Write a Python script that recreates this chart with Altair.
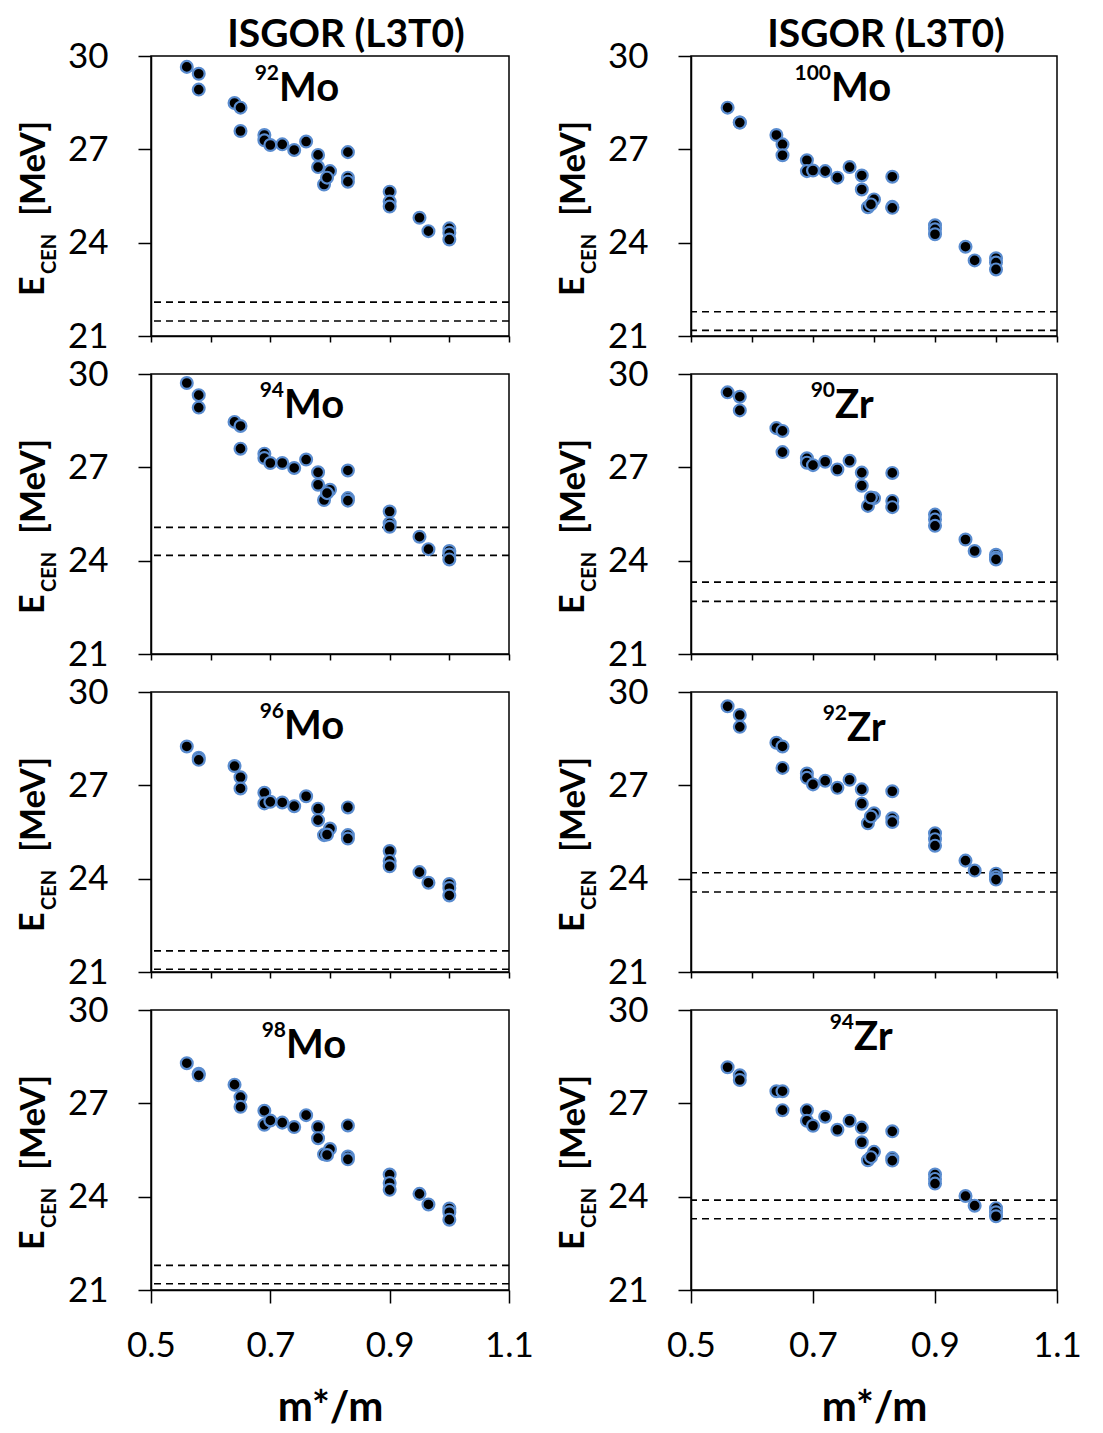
import altair as alt
import pandas as pd

# effective mass m*/m of each Skyrme interaction (shared by all panels)
M_STAR = [0.56, 0.58, 0.58, 0.64, 0.65, 0.65, 0.69, 0.69, 0.70, 0.72, 0.74, 0.76, 0.78, 0.78,
          0.79, 0.80, 0.795, 0.83, 0.83, 0.83, 0.90, 0.90, 0.90, 0.95, 0.965, 1.0, 1.0, 1.0]

# centroid energies E_CEN [MeV]
E_92MO = [29.65, 29.43, 28.92, 28.49, 28.34, 27.59, 27.46, 27.29, 27.14, 27.16, 26.98, 27.25, 26.82, 26.43,
          25.87, 26.30, 26.09, 26.91, 26.09, 25.96, 25.64, 25.32, 25.16, 24.80, 24.37, 24.46, 24.32, 24.10]
E_100MO = [28.34, 27.86, 27.86, 27.46, 27.16, 26.81, 26.65, 26.30, 26.32, 26.30, 26.09, 26.43, 26.16, 25.71,
           25.14, 25.39, 25.23, 26.12, 25.15, 25.12, 24.56, 24.43, 24.27, 23.87, 23.43, 23.50, 23.36, 23.14]
E_94MO = [29.71, 29.32, 28.92, 28.46, 28.33, 27.60, 27.44, 27.30, 27.14, 27.14, 26.98, 27.25, 26.84, 26.44,
          25.95, 26.28, 26.17, 26.90, 26.01, 25.93, 25.58, 25.20, 25.09, 24.77, 24.37, 24.31, 24.20, 24.04]
E_90ZR = [29.41, 29.27, 28.83, 28.26, 28.17, 27.49, 27.29, 27.15, 27.07, 27.18, 26.93, 27.21, 26.83, 26.41,
          25.76, 26.01, 26.03, 26.82, 25.92, 25.72, 25.48, 25.32, 25.12, 24.68, 24.31, 24.19, 24.10, 24.04]
E_96MO = [28.25, 27.89, 27.82, 27.62, 27.26, 26.90, 26.76, 26.42, 26.47, 26.45, 26.33, 26.65, 26.25, 25.88,
          25.40, 25.61, 25.42, 26.29, 25.40, 25.29, 24.89, 24.57, 24.40, 24.21, 23.87, 23.83, 23.70, 23.46]
E_92ZR = [29.54, 29.26, 28.88, 28.37, 28.25, 27.56, 27.38, 27.24, 27.03, 27.15, 26.92, 27.18, 26.87, 26.41,
          25.78, 26.10, 26.00, 26.81, 25.94, 25.82, 25.46, 25.27, 25.06, 24.58, 24.26, 24.16, 24.05, 23.97]
E_98MO = [28.29, 27.95, 27.90, 27.60, 27.20, 26.89, 26.76, 26.31, 26.45, 26.38, 26.24, 26.62, 26.24, 25.88,
          25.36, 25.53, 25.34, 26.29, 25.29, 25.20, 24.71, 24.44, 24.22, 24.09, 23.75, 23.62, 23.50, 23.26]
E_94ZR = [28.16, 27.90, 27.75, 27.39, 27.39, 26.78, 26.78, 26.44, 26.28, 26.57, 26.15, 26.44, 26.22, 25.75,
          25.17, 25.44, 25.27, 26.10, 25.24, 25.16, 24.71, 24.57, 24.42, 24.02, 23.71, 23.63, 23.50, 23.37]

# experimental bounds (dashed lines)
EXP_92MO = [22.09, 21.48]
EXP_100MO = [21.78, 21.18]
EXP_94MO = [25.07, 24.17]
EXP_90ZR = [23.31, 22.69]
EXP_96MO = [21.68, 21.09]
EXP_92ZR = [24.19, 23.57]
EXP_98MO = [21.79, 21.20]
EXP_94ZR = [23.89, 23.29]

TITLE = "ISGOR (L3T0)"
X_TICKS_TOP = [0.5, 0.6, 0.7, 0.8, 0.9, 1.0, 1.1]
X_TICKS_BOTTOM = [0.5, 0.7, 0.9, 1.1]
Y_TICKS = [21, 24, 27, 30]

# (mass number, element, energies, experiment)
PANELS = [
    [("92", "Mo", E_92MO, EXP_92MO), ("100", "Mo", E_100MO, EXP_100MO)],
    [("94", "Mo", E_94MO, EXP_94MO), ("90", "Zr", E_90ZR, EXP_90ZR)],
    [("96", "Mo", E_96MO, EXP_96MO), ("92", "Zr", E_92ZR, EXP_92ZR)],
    [("98", "Mo", E_98MO, EXP_98MO), ("94", "Zr", E_94ZR, EXP_94ZR)],
]
# label anchor (split x, baseline y) inside each panel, pixels
LABEL_POS = [
    [(128, 45), (140, 45)],
    [(133, 44), (144, 44)],
    [(133, 47), (156, 49)],
    [(135, 48), (163, 40)],
]

FONT = "Lato"
H = 280
WIDTHS = [358, 366]


def txt(s, x, y, size, weight="bold", align="left", angle=0, baseline="alphabetic"):
    return alt.Chart(pd.DataFrame({"t": [s]})).mark_text(
        align=align, baseline=baseline, font=FONT, fontSize=size, fontWeight=weight,
        angle=angle, color="black"
    ).encode(x=alt.value(x), y=alt.value(y), text="t:N")


def panel(row, col):
    mass, elem, energies, exp = PANELS[row][col]
    w = WIDTHS[col]
    bottom = row == len(PANELS) - 1
    xscale = alt.Scale(domain=[0.5, 1.1], nice=False, zero=False)
    yscale = alt.Scale(domain=[21, 30], nice=False, zero=False)
    if bottom:
        xaxis = alt.Axis(values=X_TICKS_BOTTOM, format=".1f", tickSize=13, labelFontSize=35,
                         labelPadding=25, labelFlush=False, labelOverlap=False,
                         title="m*/m", titleFontSize=42, titleFontWeight="bold",
                         titlePadding=24, titleColor="black", grid=False)
    else:
        xaxis = alt.Axis(values=X_TICKS_TOP, labels=False, tickSize=6, title=None, grid=False)
    yaxis = alt.Axis(values=Y_TICKS, tickSize=13, labelFontSize=35, labelPadding=30,
                     labelOverlap=False, title=None, grid=False)
    df = pd.DataFrame({"m": M_STAR, "E": energies})
    pts = alt.Chart(df).mark_circle(
        size=140, color="black", stroke="#5a8ccf", strokeWidth=2.2, opacity=1
    ).encode(
        x=alt.X("m:Q", scale=xscale, axis=xaxis),
        y=alt.Y("E:Q", scale=yscale, axis=yaxis),
    )
    rules = alt.Chart(pd.DataFrame({"E": exp})).mark_rule(
        color="black", strokeDash=[7, 5], strokeWidth=1.6
    ).encode(y=alt.Y("E:Q", scale=yscale, axis=yaxis))
    lx, ly = LABEL_POS[row][col]
    layers = [
        rules, pts,
        txt(mass, lx, ly - 21, 21, align="right"),
        txt(elem, lx, ly, 40),
        txt("E", -107, 240, 34, angle=270),
        txt("CEN", -95, 218, 20, angle=270),
        txt("[MeV]", -106, 160, 35, angle=270),
    ]
    if row == 0:
        layers.append(txt(TITLE, 195, -9, 39, align="center"))
    return alt.layer(*layers).properties(width=w, height=H)


panels = [panel(r, c) for r in range(4) for c in range(2)]
chart = alt.concat(
    *panels, columns=2, spacing={"row": 38, "column": 182}, bounds="flush"
).properties(
    padding={"left": 8, "top": 7, "right": 5, "bottom": 5}
).configure_view(
    stroke="black", strokeWidth=1.5
).configure_axis(
    domainColor="black", tickColor="black", labelColor="black",
    domainWidth=1.5, tickWidth=1.5, labelFont=FONT, titleFont=FONT
)

chart.save("out.html", embed_options={"renderer": "svg", "actions": False})
